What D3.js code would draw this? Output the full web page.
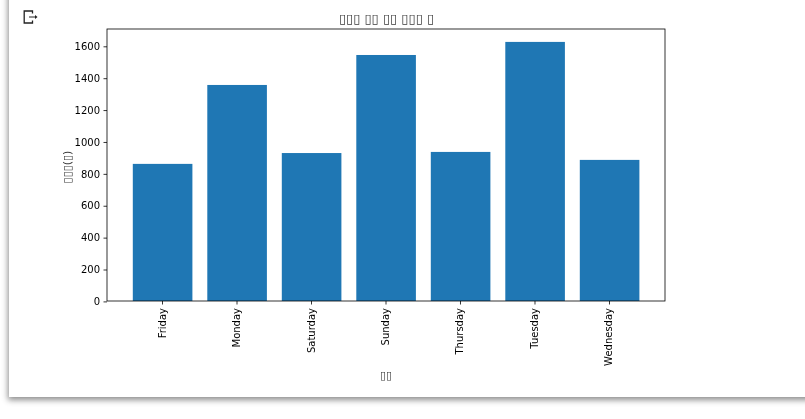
<!DOCTYPE html>
<html>
<head>
<meta charset="utf-8">
<script src="https://cdn.jsdelivr.net/npm/d3@7"></script>
<style>
html,body{margin:0;padding:0;background:#fff;overflow:hidden;width:805px;height:419px}
#card{position:absolute;left:9px;top:-20px;width:830px;height:417px;background:#fff;box-shadow:0 2px 6px 1px rgba(0,0,0,.45)}
svg{position:absolute;left:0;top:0;will-change:transform}
text{font-family:"DejaVu Sans",sans-serif;fill:#000}
</style>
</head>
<body>
<div id="card"></div>
<svg id="c" width="805" height="419"></svg>
<script>
const categories = ["Friday","Monday","Saturday","Sunday","Thursday","Tuesday","Wednesday"];
const values = [860,1355,928,1543,935,1625,885];
const yTicks = [0,200,400,600,800,1000,1200,1400,1600];
const titleText = "▯▯▯ ▯▯ ▯▯ ▯▯▯ ▯";
const xLabel = "▯▯";
const yLabel = "▯▯▯(▯)";

const L=107,R=665,T=29,B=301;
const svg=d3.select("#c");
const x=d3.scaleBand().domain(categories).range([L,R]).paddingInner(0.2).paddingOuter(0.345);
const y=d3.scaleLinear().domain([0,1706]).range([B,T]);

svg.append("g").selectAll("rect").data(values).join("rect")
  .attr("x",(d,i)=>x(categories[i])+0.1).attr("width",x.bandwidth())
  .attr("y",d=>y(d)).attr("height",d=>y(0)-y(d)).attr("fill","#1f77b4");

const gx=svg.append("g").attr("transform",`translate(0,${B})`)
  .call(d3.axisBottom(x).tickSize(3.5).tickPadding(3.5));
gx.select(".domain").remove();
gx.selectAll("text").attr("font-size",10)
  .attr("transform","rotate(-90)").attr("text-anchor","end")
  .attr("x",-7).attr("y",-0.5).attr("dy","0.35em");
const gy=svg.append("g").attr("transform",`translate(${L},0.4)`)
  .call(d3.axisLeft(y).tickValues(yTicks).tickFormat(d3.format("d")).tickSize(3.5).tickPadding(3.5));
gy.select(".domain").remove();
gy.selectAll("text").attr("font-size",10);
svg.selectAll(".tick line").attr("stroke","#000").attr("stroke-width",0.8);

svg.append("rect").attr("x",L).attr("y",T).attr("width",R-L).attr("height",B-T)
  .attr("fill","none").attr("stroke","#000").attr("stroke-width",0.8);

svg.append("text").attr("x",386.5).attr("y",23).attr("text-anchor","middle").attr("font-size",13).attr("fill-opacity",0.8).text(titleText);
svg.append("text").attr("x",386).attr("y",379).attr("text-anchor","middle").attr("font-size",11).attr("fill-opacity",0.8).text(xLabel);
svg.append("text").attr("transform",`translate(71,167) rotate(-90)`).attr("text-anchor","middle").attr("font-size",11).attr("fill-opacity",0.8).text(yLabel);

// output-area icon
const ic=svg.append("g").attr("fill","none").attr("stroke","#222").attr("stroke-width",1.3);
ic.append("path").attr("d","M32.5 13.5V11H24.2V23H32.5V20.5");
ic.append("path").attr("d","M29 17H36").attr("stroke-width",1);
svg.append("path").attr("d","M35 15L37.5 17L35 19Z").attr("fill","#222");
</script>
</body>
</html>
